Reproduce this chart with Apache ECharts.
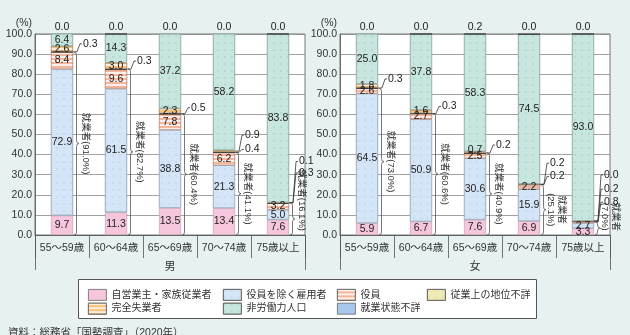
<!DOCTYPE html>
<html><head><meta charset="utf-8">
<script src="https://cdn.jsdelivr.net/npm/echarts@6/dist/echarts.min.js"></script>
<style>html,body{margin:0;padding:0;background:#e7f1f1}#c{width:630px;height:335px}</style>
</head><body><div id="c"></div>
<script>
// ---------- data ----------
const categories = ['55～59歳', '60～64歳', '65～69歳', '70～74歳', '75歳以上'];
const seriesNames = ['自営業主・家族従業者', '役員を除く雇用者', '役員', '従業上の地位不詳', '完全失業者', '非労働力人口', '就業状態不詳'];
const panelTitles = ['男', '女'];

const maleSelfEmployed   = [9.7, 11.3, 13.5, 13.4, 7.6];
const maleEmployee       = [72.9, 61.5, 38.8, 21.3, 5.0];
const maleExecutive      = [8.4, 9.6, 7.8, 6.2, 3.2];
const maleStatusUnknown  = [0.3, 0.3, 0.5, 0.4, 0.3];
const maleUnemployed     = [2.6, 3.0, 2.3, 0.9, 0.1];
const maleNotInLabor     = [6.4, 14.3, 37.2, 58.2, 83.8];
const maleLaborUnknown   = [0.0, 0.0, 0.0, 0.0, 0.0];
const maleEmployedTotal  = [91.0, 82.7, 60.4, 41.1, 16.1];

const femaleSelfEmployed  = [5.9, 6.7, 7.6, 6.9, 3.3];
const femaleEmployee      = [64.5, 50.9, 30.6, 15.9, 2.7];
const femaleExecutive     = [2.6, 2.7, 2.5, 2.2, 0.8];
const femaleStatusUnknown = [0.3, 0.3, 0.2, 0.2, 0.2];
const femaleUnemployed    = [1.8, 1.6, 0.7, 0.2, 0.0];
const femaleNotInLabor    = [25.0, 37.8, 58.3, 74.5, 93.0];
const femaleLaborUnknown  = [0.0, 0.0, 0.2, 0.0, 0.0];
const femaleEmployedTotal = [73.0, 60.6, 40.9, 25.1, 7.0];

const sourceNote = '資料：総務省「国勢調査」（2020年）';

// ---------- layout / style (not data) ----------
const FONT = '"Liberation Sans","Noto Sans CJK JP",sans-serif';
const BAR_W = 22;
// callout label vertical offsets (px) relative to segment centre: [category, seriesIndex, dy]
const calloutLayout = [
  [[0,3,-8],[1,3,-8],[2,3,-6],[3,4,-16],[3,3,-3],[4,4,-41],[4,3,-30]],
  [[0,3,-9],[1,3,-7],[2,3,-8],[3,4,-21],[3,3,-8],[4,4,-46],[4,3,-32],[4,2,-20]]
];
const nudgedInside = [[], [[2,4,-2]]];
const twoColumnText = [[], [3,4]];

const panels = [
  {key:'m', values:[maleSelfEmployed, maleEmployee, maleExecutive, maleStatusUnknown, maleUnemployed, maleNotInLabor, maleLaborUnknown], employed: maleEmployedTotal},
  {key:'f', values:[femaleSelfEmployed, femaleEmployee, femaleExecutive, femaleStatusUnknown, femaleUnemployed, femaleNotInLabor, femaleLaborUnknown], employed: femaleEmployedTotal}
];

const dots = c => ({symbol:'circle', symbolSize:0.7, dashArrayX:[2,5], dashArrayY:[2,5], color:c});
const stripes = c => ({symbol:'rect', symbolSize:1, dashArrayX:[1,0], dashArrayY:[1.6,1.6], color:c});
const styles = [
  {color:'#f5c6dc', borderColor:'#b99aa8', borderWidth:0.6},
  {color:'#d4e5f7', borderColor:'#9aa9b8', borderWidth:0.6, decal:dots('rgba(150,175,210,0.55)')},
  {color:'#f3b59c', borderColor:'#b98a7a', borderWidth:0.6, decal:stripes('rgba(255,255,255,0.8)')},
  {color:'#eeecb4', borderColor:'#333', borderWidth:0.8, decal:dots('rgba(170,170,110,0.6)')},
  {color:'#f7c17e', borderColor:'#a98a60', borderWidth:0.6, decal:stripes('rgba(255,255,255,0.7)')},
  {color:'#c7e6df', borderColor:'#93aaa5', borderWidth:0.6, decal:dots('rgba(110,170,160,0.55)')},
  {color:'#a9c6ec', borderColor:'#333', borderWidth:0.8}
];

const mctx = document.createElement('canvas').getContext('2d');
function textW(t, f){ mctx.font = f; return mctx.measureText(t).width; }

function isCallout(gi, c, s){
  return calloutLayout[gi].some(e => e[0]===c && e[1]===s) || nudgedInside[gi].some(e => e[0]===c && e[1]===s);
}

const series = [];
panels.forEach((p, gi) => {
  p.values.forEach((arr, s) => {
    series.push({
      name: seriesNames[s], type:'bar', stack:p.key, xAxisIndex:gi*2, yAxisIndex:gi,
      barWidth:BAR_W, itemStyle:styles[s], animation:false,
      emphasis:{disabled:true},
      label:{position:'inside', color:'#222', fontSize:10.5, fontFamily:FONT, textBorderWidth:0,
        formatter: d => Number(d.value).toFixed(1)},
      data: arr.map((v, c) => ({value:v, label:{show: s !== 3 && s !== 6 && v >= 1.5 && !isCallout(gi, c, s)}}))
    });
  });
  // annotations
  series.push({
    type:'custom', xAxisIndex:gi*2, yAxisIndex:gi, clip:false, silent:true, z:5, animation:false,
    data: categories.map((c, i) => [i, 0]),
    encode:{x:0, y:1},
    renderItem: (params, api) => {
      const i = params.dataIndex;
      const vals = p.values;
      const base = api.coord([i, 0]);
      const cx = base[0], y0 = base[1];
      const xr = cx + BAR_W / 2;
      const ch = [];
      const numFont = '10.5px ' + FONT;
      // top label
      const yTop = api.coord([i, 100])[1];
      ch.push({type:'text', x:cx, y:yTop - 7, style:{text: vals[6][i].toFixed(1), fill:'#222', font:numFont, align:'center', verticalAlign:'middle'}});
      // brace
      const emp = p.employed[i];
      const y1 = api.coord([i, emp])[1];
      const ym = (y0 + y1) / 2;
      const bx = xr + 1;
      const d = `M${bx} ${y0} Q${bx+2.5} ${y0} ${bx+2.5} ${y0-3} L${bx+2.5} ${ym+3} Q${bx+2.5} ${ym} ${bx+5} ${ym} Q${bx+2.5} ${ym} ${bx+2.5} ${ym-3} L${bx+2.5} ${y1+3} Q${bx+2.5} ${y1} ${bx} ${y1}`;
      ch.push({type:'path', shape:{pathData:d}, style:{stroke:'#555', fill:null, lineWidth:0.8}});
      const two = twoColumnText[gi].indexOf(i) >= 0;
      const bf = '9.5px ' + FONT;
      const pct = '(' + emp.toFixed(1) + '%)';
      const txt = two ? '就業者\n' + pct : '就業者' + pct;
      const len = two ? Math.max(textW('就業者', bf), textW(pct, bf)) : textW(txt, bf);
      const ty = Math.min(ym, y0 - len / 2 - 4);
      ch.push({type:'text', x: xr + (two ? 16 : 13), y: ty, rotation: -Math.PI / 2,
        style:{text: txt, fill:'#333', font: bf, align:'center', verticalAlign:'middle', lineHeight:11}});
      // callouts
      calloutLayout[gi].filter(e => e[0] === i).forEach(e => {
        const s = e[1];
        let start = 0; for (let k = 0; k < s; k++) start += vals[k][i];
        const v = vals[s][i];
        const sy = api.coord([i, start + v / 2])[1];
        const ly = sy + e[2];
        ch.push({type:'polyline', shape:{points:[[xr, sy],[xr+4, sy],[xr+7, ly],[xr+9, ly]]}, style:{stroke:'#333', fill:null, lineWidth:0.8}});
        ch.push({type:'text', x: xr + 10, y: ly, style:{text: v.toFixed(1), fill:'#222', font:numFont, align:'left', verticalAlign:'middle'}});
      });
      nudgedInside[gi].filter(e => e[0] === i).forEach(e => {
        const s = e[1];
        let start = 0; for (let k = 0; k < s; k++) start += vals[k][i];
        const v = vals[s][i];
        const sy = api.coord([i, start + v / 2])[1];
        ch.push({type:'text', x: cx, y: sy + e[2], style:{text: v.toFixed(1), fill:'#222', font:numFont, align:'center', verticalAlign:'middle'}});
      });
      return {type:'group', children: ch};
    }
  });
});

const grids = [
  {left:35, top:34, width:270, height:201, show:true, backgroundColor:'#fff', borderColor:'#555', borderWidth:0.8},
  {left:340, top:34, width:270, height:201, show:true, backgroundColor:'#fff', borderColor:'#555', borderWidth:0.8}
];
const xAxes = [];
const yAxes = [];
[0, 1].forEach(gi => {
  xAxes.push({type:'category', gridIndex:gi, position:'bottom', data:categories,
    axisLine:{show:true, lineStyle:{color:'#555', width:0.8}},
    axisTick:{show:true, length:23, interval:0, lineStyle:{color:'#555', width:0.8}},
    axisLabel:{margin:8, fontSize:10.5, color:'#333', fontFamily:FONT, interval:0},
    splitLine:{show:false}});
  xAxes.push({type:'category', gridIndex:gi, position:'bottom', data:[panelTitles[gi]],
    axisLine:{show:false},
    axisTick:{show:true, length:35, lineStyle:{color:'#555', width:0.8}},
    axisLabel:{margin:26, fontSize:11, color:'#333', fontFamily:FONT},
    splitLine:{show:false}});
  yAxes.push({type:'value', gridIndex:gi, min:0, max:100, interval:10,
    name:'(%)', nameLocation:'end', nameGap:4,
    nameTextStyle:{align:'right', fontSize:10.5, color:'#333', fontFamily:FONT, padding:[0,3,0,0]},
    axisLine:{show:true, lineStyle:{color:'#555', width:0.8}},
    axisTick:{show:false},
    axisLabel:{margin:3, fontSize:10.5, color:'#333', fontFamily:FONT, formatter: v => v.toFixed(1)},
    splitLine:{show:true, lineStyle:{color:'#8a8a8a', width:0.8}}});
});

const legendBase = {orient:'vertical', top:284, itemWidth:18, itemHeight:11, itemGap:2, selectedMode:false,
  icon:'rect', textStyle:{fontSize:10, color:'#333', fontFamily:FONT},
  itemStyle:{borderColor:'#666', borderWidth:0.8}};
const legends = [
  Object.assign({}, legendBase, {left:83, data:[seriesNames[0], seriesNames[4]]}),
  Object.assign({}, legendBase, {left:218, data:[seriesNames[1], seriesNames[5]]}),
  Object.assign({}, legendBase, {left:332, data:[seriesNames[2], seriesNames[6]]}),
  Object.assign({}, legendBase, {left:422, data:[seriesNames[3]]})
];

const chart = echarts.init(document.getElementById('c'));
chart.setOption({
  backgroundColor:'#e7f1f1',
  animation:false,
  grid: grids, xAxis: xAxes, yAxis: yAxes, legend: legends, series: series,
  graphic:[
    {type:'rect', left:78, top:279, z:-1, shape:{width:458, height:39}, style:{fill:'#fff', stroke:'#555', lineWidth:1}},
    {type:'text', left:8, top:328, style:{text:sourceNote, fill:'#333', font:'10.5px ' + FONT}}
  ]
});
</script></body></html>
